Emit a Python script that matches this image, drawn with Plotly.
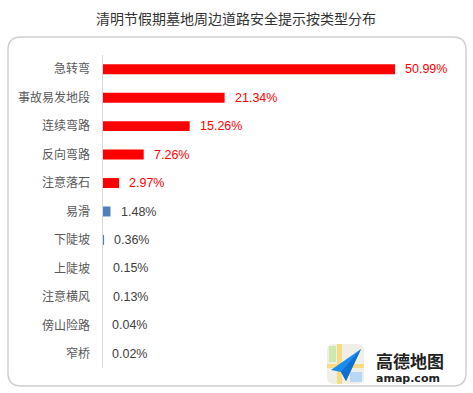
import plotly.graph_objects as go

categories = ["急转弯", "事故易发地段", "连续弯路", "反向弯路", "注意落石", "易滑",
              "下陡坡", "上陡坡", "注意横风", "傍山险路", "窄桥"]
values = [50.99, 21.34, 15.26, 7.26, 2.97, 1.48, 0.36, 0.15, 0.13, 0.04, 0.02]
labels = ["50.99%", "21.34%", "15.26%", "7.26%", "2.97%", "1.48%", "0.36%",
          "0.15%", "0.13%", "0.04%", "0.02%"]
bar_colors = ["#FF0000"] * 5 + ["#4F81BD"] * 6
text_colors = ["#FF0000"] * 5 + ["#404040"] * 6
title_text = "清明节假期墓地周边道路安全提示按类型分布"

W, H = 473, 393
L, R, T, B = 102, 455, 55, 368
XMAX = (R - L) / (395 - L) * 50.99
PX_DATA = XMAX / (R - L)  # one pixel in data units

def px(x):
    return (x - L) / (R - L)

def py(y):
    return (B - y) / (B - T)

def rrect(x0, y0, x1, y1, r):
    pts = (f"M {px(x0 + r)},{py(y0)} L {px(x1 - r)},{py(y0)} "
           f"Q {px(x1)},{py(y0)} {px(x1)},{py(y0 + r)} "
           f"L {px(x1)},{py(y1 - r)} Q {px(x1)},{py(y1)} {px(x1 - r)},{py(y1)} "
           f"L {px(x0 + r)},{py(y1)} Q {px(x0)},{py(y1)} {px(x0)},{py(y1 - r)} "
           f"L {px(x0)},{py(y0 + r)} Q {px(x0)},{py(y0)} {px(x0 + r)},{py(y0)} Z")
    return pts

def poly(points):
    return "M " + " L ".join(f"{px(a)},{py(b)}" for a, b in points) + " Z"

fig = go.Figure()
fig.add_trace(go.Bar(
    x=values, y=categories, orientation="h",
    marker=dict(color=bar_colors, line=dict(width=0)),
    hoverinfo="skip",
))

annotations = []
for c, v, t, col in zip(categories, values, labels, text_colors):
    annotations.append(dict(
        x=v, y=c, xref="x", yref="y", text=t, showarrow=False,
        xanchor="left", yanchor="middle", xshift=8,
        font=dict(family="Arial, Liberation Sans, sans-serif", size=12.5, color=col),
    ))

annotations.append(dict(
    x=px(236), y=py(18), xref="paper", yref="paper", text=title_text, showarrow=False,
    xanchor="center", yanchor="middle",
    font=dict(family="Noto Sans CJK SC", size=14, color="#333333"),
))

# logo text
annotations.append(dict(
    x=px(374), y=py(360), xref="paper", yref="paper", text="<b>高德地图</b>",
    showarrow=False, xanchor="left", yanchor="middle",
    font=dict(family="Noto Sans CJK SC", size=17, color="#222222"),
))
annotations.append(dict(
    x=px(374), y=py(378), xref="paper", yref="paper", text="<b>amap.com</b>",
    showarrow=False, xanchor="left", yanchor="middle",
    font=dict(family="DejaVu Sans", size=11, color="#222222"),
))

shapes = [
    dict(type="path", xref="paper", yref="paper", path=rrect(8, 37, 466, 386, 13),
         line=dict(color="#cfcfcf", width=1.5), fillcolor="rgba(0,0,0,0)", layer="below"),
    # vertical axis line at the bar base, drawn above the bars
    dict(type="line", xref="x", yref="paper", x0=0.5 * PX_DATA, x1=0.5 * PX_DATA, y0=0, y1=1,
         line=dict(color="#d9d9d9", width=1), layer="above"),
    # icon background
    dict(type="path", xref="paper", yref="paper", path=rrect(327, 344, 364, 384, 7),
         line=dict(width=0), fillcolor="#efefe8", layer="above"),
    dict(type="path", xref="paper", yref="paper",
         path=poly([(329, 346), (336, 346), (336, 362), (329, 362)]),
         line=dict(width=0), fillcolor="#cfe8b0", layer="above"),
    dict(type="path", xref="paper", yref="paper",
         path=poly([(337, 344), (342, 344), (342, 384), (337, 384)]),
         line=dict(width=0), fillcolor="#f7dc83", layer="above"),
    dict(type="path", xref="paper", yref="paper",
         path=poly([(327, 364), (364, 364), (364, 368), (327, 368)]),
         line=dict(width=0), fillcolor="#f7dc83", layer="above"),
    dict(type="path", xref="paper", yref="paper",
         path=poly([(350, 372), (362, 372), (362, 382), (350, 382)]),
         line=dict(width=0), fillcolor="#b8d8f5", layer="above"),
    # paper plane
    dict(type="path", xref="paper", yref="paper",
         path=poly([(361, 349), (331, 370), (341, 372), (346, 381)]),
         line=dict(width=0), fillcolor="#1a8cf0", layer="above"),
    dict(type="path", xref="paper", yref="paper",
         path=poly([(361, 349), (341, 372), (346, 381)]),
         line=dict(width=0), fillcolor="#0f6fd0", layer="above"),
]

fig.update_layout(
    width=W, height=H,
    margin=dict(l=L, r=W - R, t=T, b=H - B, pad=0),
    paper_bgcolor="white", plot_bgcolor="white",
    showlegend=False,
    bargap=0.65,
    xaxis=dict(range=[0, XMAX], visible=False, fixedrange=True),
    yaxis=dict(autorange="reversed", showline=False,
               showgrid=False, ticks="", ticklabelstandoff=11,
               tickfont=dict(family="Noto Sans CJK SC", size=12, color="#595959"),
               fixedrange=True),
    annotations=annotations,
    shapes=shapes,
)

fig.write_html("out.html", config={"displayModeBar": False},
               post_script="document.body.style.margin='0';document.body.style.overflow='hidden';")
